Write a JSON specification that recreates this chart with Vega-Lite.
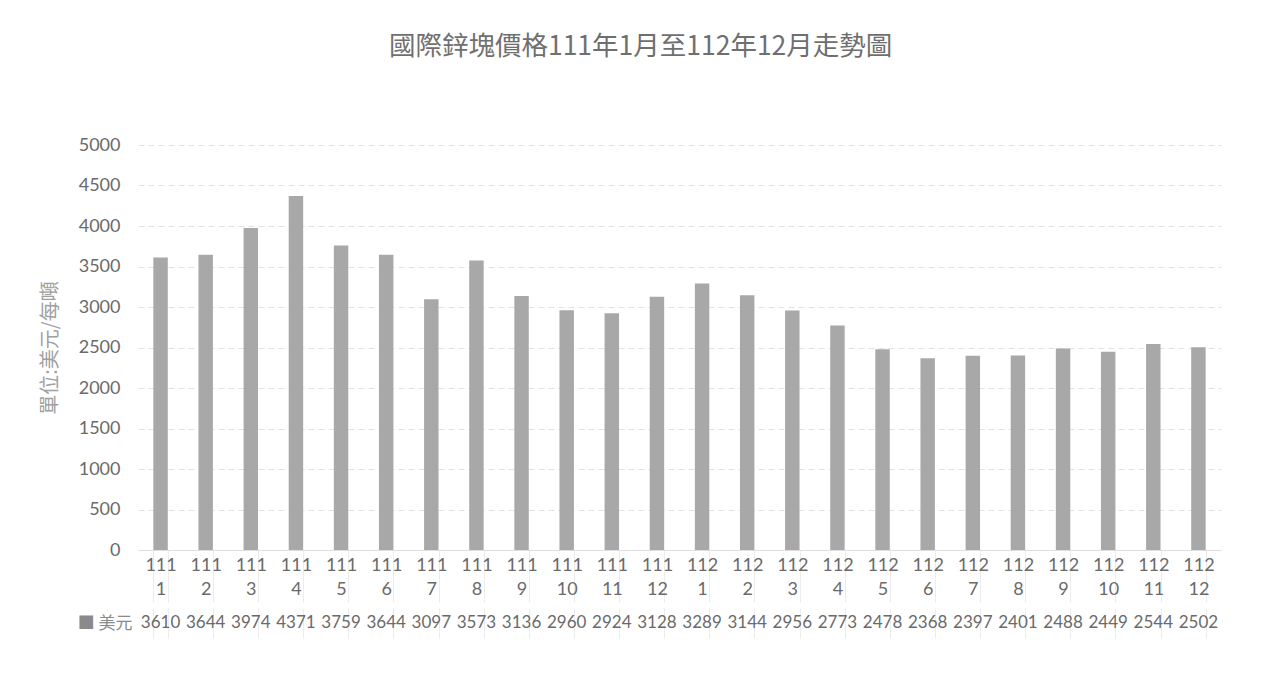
{
  "$schema": "https://vega.github.io/schema/vega-lite/v6.json",
  "background": "white",
  "padding": {"left": 40, "top": 33, "right": 10, "bottom": 10},
  "config": {
    "font": "Lato, Noto Sans CJK TC",
    "view": {"stroke": null},
    "concat": {"spacing": 5}
  },
  "title": {
    "text": "國際鋅塊價格111年1月至112年12月走勢圖",
    "font": "Noto Sans CJK TC",
    "fontSize": 26.5,
    "fontWeight": "normal",
    "color": "#6f6f6f",
    "anchor": "middle",
    "dx": 10,
    "offset": 76
  },
  "datasets": {
    "zinc": [
      {"ym": "111-1", "series": "美元", "price": 3610},
      {"ym": "111-2", "series": "美元", "price": 3644},
      {"ym": "111-3", "series": "美元", "price": 3974},
      {"ym": "111-4", "series": "美元", "price": 4371},
      {"ym": "111-5", "series": "美元", "price": 3759},
      {"ym": "111-6", "series": "美元", "price": 3644},
      {"ym": "111-7", "series": "美元", "price": 3097},
      {"ym": "111-8", "series": "美元", "price": 3573},
      {"ym": "111-9", "series": "美元", "price": 3136},
      {"ym": "111-10", "series": "美元", "price": 2960},
      {"ym": "111-11", "series": "美元", "price": 2924},
      {"ym": "111-12", "series": "美元", "price": 3128},
      {"ym": "112-1", "series": "美元", "price": 3289},
      {"ym": "112-2", "series": "美元", "price": 3144},
      {"ym": "112-3", "series": "美元", "price": 2956},
      {"ym": "112-4", "series": "美元", "price": 2773},
      {"ym": "112-5", "series": "美元", "price": 2478},
      {"ym": "112-6", "series": "美元", "price": 2368},
      {"ym": "112-7", "series": "美元", "price": 2397},
      {"ym": "112-8", "series": "美元", "price": 2401},
      {"ym": "112-9", "series": "美元", "price": 2488},
      {"ym": "112-10", "series": "美元", "price": 2449},
      {"ym": "112-11", "series": "美元", "price": 2544},
      {"ym": "112-12", "series": "美元", "price": 2502}
    ]
  },
  "data": {"name": "zinc"},
  "vconcat": [
    {
      "width": 1083,
      "height": 405,
      "mark": {"type": "bar", "color": "#a8a8a8"},
      "encoding": {
        "x": {
          "field": "ym",
          "type": "nominal",
          "sort": null,
          "scale": {"paddingInner": 0.68, "paddingOuter": 0.34},
          "axis": {
            "title": null,
            "labelAngle": 0,
            "labelExpr": "isValid(datum.value) ? split(datum.value, '-') : ''",
            "labelFontSize": 18,
            "labelLineHeight": 24,
            "labelColor": "#6a6a6a",
            "labelPadding": -46,
            "ticks": true,
            "tickBand": "extent",
            "tickSize": 52,
            "tickColor": "#ececec",
            "domainColor": "#dedede"
          }
        },
        "y": {
          "field": "price",
          "type": "quantitative",
          "scale": {"domain": [0, 5000]},
          "axis": {
            "title": "單位:美元/每噸",
            "titleFont": "Noto Sans CJK TC",
            "titleFontSize": 20,
            "titleFontWeight": "normal",
            "titleColor": "#a0a0a0",
            "titlePadding": 18,
            "values": [0, 500, 1000, 1500, 2000, 2500, 3000, 3500, 4000, 4500, 5000],
            "format": "d",
            "labelFontSize": 18,
            "labelColor": "#6a6a6a",
            "labelPadding": 18,
            "ticks": false,
            "domain": false,
            "gridColor": "#e2e2e2",
            "gridDash": [6, 4]
          }
        }
      }
    },
    {
      "width": 1083,
      "height": 30,
      "mark": {"type": "text", "fontSize": 17, "color": "#6a6a6a"},
      "encoding": {
        "x": {
          "field": "ym",
          "type": "nominal",
          "sort": null,
          "scale": {"paddingInner": 0.68, "paddingOuter": 0.34},
          "axis": {
            "title": null,
            "labels": false,
            "ticks": false,
            "domain": false,
            "grid": true,
            "tickBand": "extent",
            "gridColor": "#ececec"
          }
        },
        "y": {
          "field": "series",
          "type": "nominal",
          "axis": {
            "title": null,
            "labelExpr": "'■ ' + datum.label",
            "labelFont": "Noto Sans CJK TC",
            "labelFontSize": 17,
            "labelColor": "#8a8a8a",
            "labelPadding": 6,
            "ticks": false,
            "domain": false
          }
        },
        "text": {"field": "price", "type": "quantitative"}
      }
    }
  ]
}
